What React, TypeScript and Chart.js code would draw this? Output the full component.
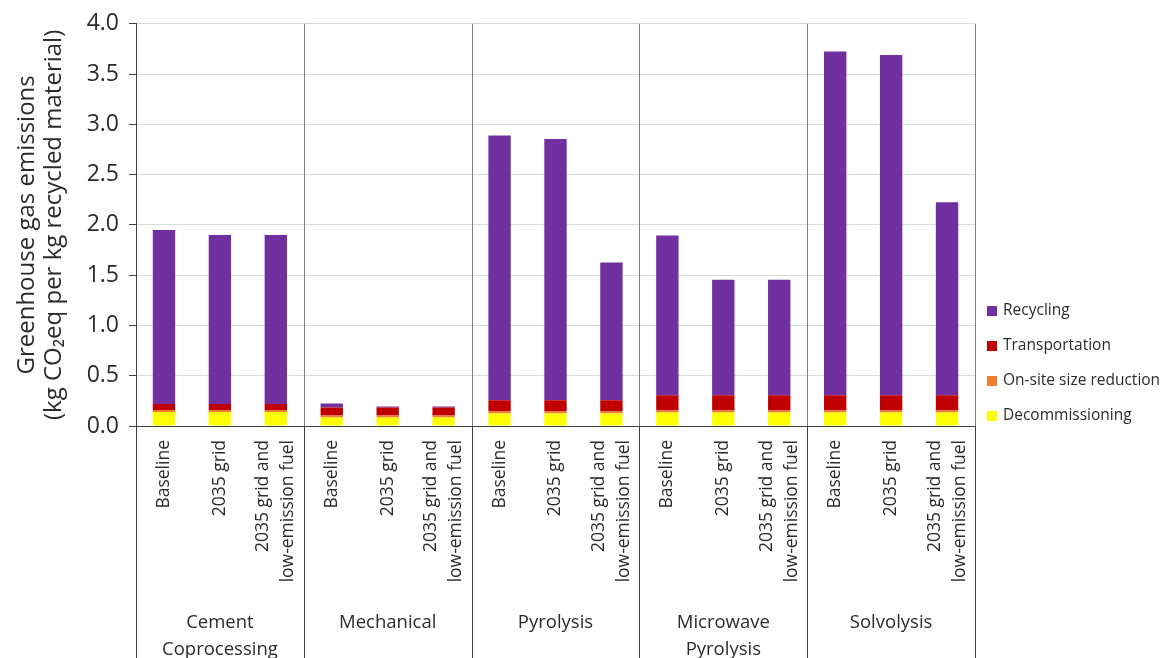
import React, { useEffect, useRef } from "react";
import { Chart, registerables } from "chart.js";

Chart.register(...registerables);

const groups: string[][] = [
  ["Cement", "Coprocessing"],
  ["Mechanical"],
  ["Pyrolysis"],
  ["Microwave", "Pyrolysis"],
  ["Solvolysis"],
];
const scenarios: string[][] = [
  ["Baseline"],
  ["2035 grid"],
  ["2035 grid and", "low-emission fuel"],
];

const decommissioning = [0.14, 0.14, 0.14, 0.085, 0.085, 0.085, 0.125, 0.125, 0.125, 0.135, 0.135, 0.135, 0.135, 0.135, 0.135];
const onSiteSizeReduction = [0.02, 0.02, 0.02, 0.02, 0.02, 0.02, 0.02, 0.02, 0.02, 0.02, 0.02, 0.02, 0.02, 0.02, 0.02];
const transportation = [0.06, 0.06, 0.06, 0.08, 0.08, 0.08, 0.11, 0.11, 0.11, 0.15, 0.15, 0.15, 0.15, 0.15, 0.15];
const recycling = [1.73, 1.68, 1.68, 0.04, 0.01, 0.01, 2.635, 2.6, 1.37, 1.59, 1.15, 1.15, 3.42, 3.385, 1.92];

const yTitle = ["Greenhouse gas emissions", "(kg CO\u2082eq per kg recycled material)"];

const FONT = "'Open Sans', sans-serif";
const TEXT = "#2b2b2b";

const categories: string[] = [];
groups.forEach((g) => scenarios.forEach((s) => categories.push(g.join(" ") + " - " + s.join(" "))));

const overlayPlugin = {
  id: "overlay",
  afterDraw(chart: any) {
    const { ctx, chartArea, scales } = chart;
    const x = scales.x;
    const H = chart.height;
    const n = categories.length;
    const bounds: number[] = [];
    for (let g = 0; g <= groups.length; g++) {
      const idx = g * scenarios.length;
      let px: number;
      if (idx === 0) px = chartArea.left;
      else if (idx >= n) px = chartArea.right;
      else px = (x.getPixelForTick(idx - 1) + x.getPixelForTick(idx)) / 2;
      bounds.push(px);
    }
    ctx.save();
    ctx.lineWidth = 1;
    bounds.forEach((px, i) => {
      const p = Math.round(px) + 0.5;
      if (i !== 0) {
        ctx.strokeStyle = "#7f7f7f";
        ctx.beginPath();
        ctx.moveTo(p, chartArea.top);
        ctx.lineTo(p, chartArea.bottom);
        ctx.stroke();
      }
      ctx.strokeStyle = "#404040";
      ctx.beginPath();
      ctx.moveTo(p, chartArea.bottom);
      ctx.lineTo(p, H);
      ctx.stroke();
    });
    ctx.fillStyle = TEXT;
    ctx.font = `17.5px ${FONT}`;
    const lh = 25;
    for (let i = 0; i < n; i++) {
      const lines = scenarios[i % scenarios.length];
      const px = x.getPixelForTick(i);
      lines.forEach((line, j) => {
        const cx = px + (j - (lines.length - 1) / 2) * lh;
        ctx.save();
        ctx.translate(cx, chartArea.bottom + 14);
        ctx.rotate(-Math.PI / 2);
        ctx.textAlign = "right";
        ctx.textBaseline = "middle";
        ctx.fillText(line, 0, 0);
        ctx.restore();
      });
    }
    ctx.font = `18.5px ${FONT}`;
    ctx.textAlign = "center";
    ctx.textBaseline = "middle";
    groups.forEach((g, gi) => {
      const cx = (bounds[gi] + bounds[gi + 1]) / 2;
      g.forEach((line, j) => ctx.fillText(line, cx, 623 + j * 27));
    });
    const ds = chart.data.datasets.slice().reverse();
    ctx.font = `15.5px ${FONT}`;
    ctx.textAlign = "left";
    ds.forEach((d: any, k: number) => {
      const cy = 311 + k * 35;
      ctx.fillStyle = d.backgroundColor;
      ctx.fillRect(987, cy - 5, 10, 10);
      ctx.fillStyle = TEXT;
      ctx.fillText(d.label, 1003, cy);
    });
    ctx.restore();
  },
};

export default function App() {
  const ref = useRef<HTMLCanvasElement>(null);
  useEffect(() => {
    if (!ref.current) return;
    const chart = new Chart(ref.current, {
      type: "bar",
      data: {
        labels: categories,
        datasets: [
          { label: "Decommissioning", data: decommissioning, backgroundColor: "#FFFF00" },
          { label: "On-site size reduction", data: onSiteSizeReduction, backgroundColor: "#ED7D31" },
          { label: "Transportation", data: transportation, backgroundColor: "#C00000" },
          { label: "Recycling", data: recycling, backgroundColor: "#7030A0" },
        ],
      },
      options: {
        animation: false,
        responsive: true,
        maintainAspectRatio: false,
        layout: { padding: { left: 0, top: 22, right: 191, bottom: 0 } },
        datasets: { bar: { barPercentage: 0.4, categoryPercentage: 1, borderWidth: 0 } },
        plugins: { legend: { display: false }, tooltip: { enabled: false } },
        scales: {
          x: {
            stacked: true,
            grid: { display: false, drawTicks: false },
            border: { display: true, color: "#404040", width: 1 },
            ticks: { display: false },
            afterFit: (s: any) => {
              s.height = 232;
            },
          },
          y: {
            stacked: true,
            min: 0,
            max: 4,
            ticks: {
              stepSize: 0.5,
              padding: 10,
              color: TEXT,
              font: { family: FONT, size: 23 },
              callback: (v: any) => Number(v).toFixed(1),
            },
            grid: { color: "#d9d9d9", tickColor: "#404040", tickLength: 7, lineWidth: 1 },
            border: { display: true, color: "#404040", width: 1 },
            title: {
              display: true,
              text: yTitle,
              color: TEXT,
              font: { family: FONT, size: 24, lineHeight: 1.15 },
              padding: { top: 13, bottom: 0 },
            },
            afterFit: (s: any) => {
              s.width = 136;
            },
          },
        },
      },
      plugins: [overlayPlugin],
    });
    return () => chart.destroy();
  }, []);
  return (
    <div style={{ position: "fixed", left: 0, top: 0, width: 1166, height: 658, background: "#fff" }}>
      <canvas ref={ref} />
    </div>
  );
}
